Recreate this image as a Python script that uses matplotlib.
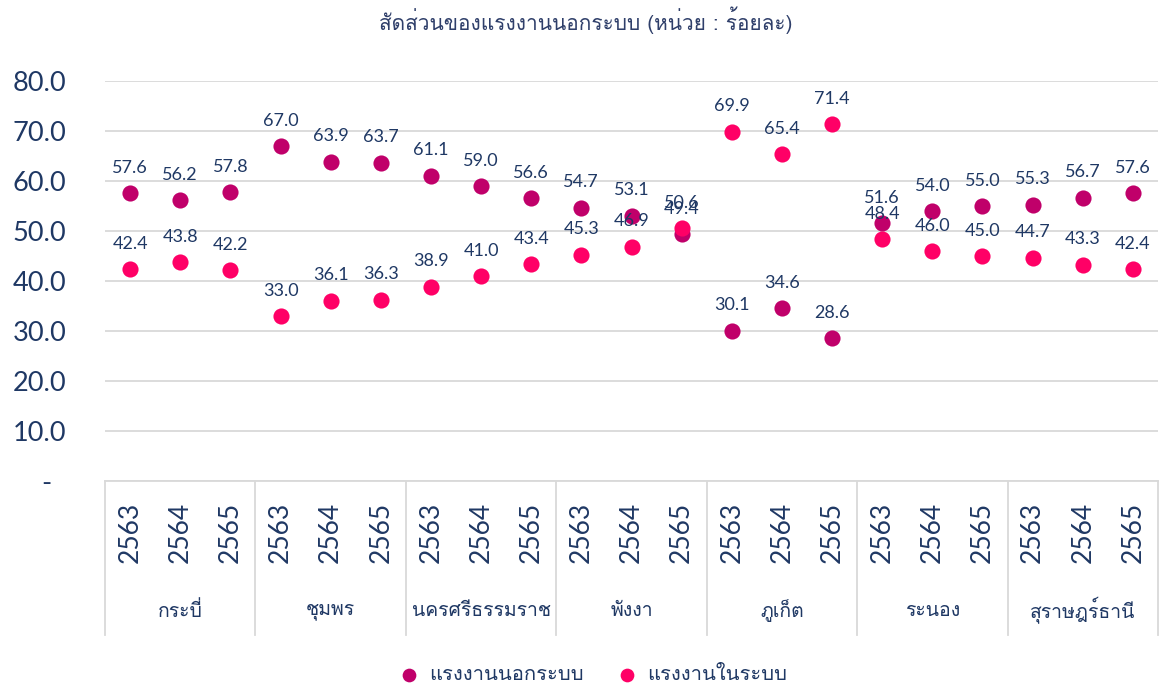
import matplotlib
matplotlib.use("Agg")
import matplotlib.pyplot as plt
import matplotlib.transforms as mtransforms
from matplotlib.lines import Line2D

provinces = ["กระบี่", "ชุมพร", "นครศรีธรรมราช", "พังงา", "ภูเก็ต", "ระนอง", "สุราษฎร์ธานี"]
years = ["2563", "2564", "2565"]

# แรงงานนอกระบบ (informal)
informal = [57.6, 56.2, 57.8, 67.0, 63.9, 63.7, 61.1, 59.0, 56.6, 54.7, 53.1, 49.4,
            30.1, 34.6, 28.6, 51.6, 54.0, 55.0, 55.3, 56.7, 57.6]
# แรงงานในระบบ (formal)
formal = [42.4, 43.8, 42.2, 33.0, 36.1, 36.3, 38.9, 41.0, 43.4, 45.3, 46.9, 50.6,
          69.9, 65.4, 71.4, 48.4, 46.0, 45.0, 44.7, 43.3, 42.4]

title = "สัดส่วนของแรงงานนอกระบบ (หน่วย : ร้อยละ)"
series_names = ["แรงงานนอกระบบ", "แรงงานในระบบ"]

navy = "#1F3864"
grid_c = "#D9D9D9"
c_informal = "#C0006A"
c_formal = "#FF0066"
thai = ["Loma", "Noto Sans Thai Looped", "DejaVu Sans"]
num = ["Lato", "DejaVu Sans"]

fig = plt.figure(figsize=(11.62, 6.88), dpi=100)
ax = fig.add_axes([105 / 1162, 1 - 481 / 688, 1053 / 1162, 400 / 688])

x = list(range(len(informal)))
ax.scatter(x, informal, s=135, color=c_informal, zorder=3, label=series_names[0], linewidths=0)
ax.scatter(x, formal, s=135, color=c_formal, zorder=4, label=series_names[1], linewidths=0)

for xi, v in zip(x, informal):
    ax.annotate(f"{v:.1f}", (xi, v), xytext=(0, 12.5), textcoords="offset points",
                ha="center", va="bottom", fontsize=13, color=navy, family=num, zorder=5)
for xi, v in zip(x, formal):
    ax.annotate(f"{v:.1f}", (xi, v), xytext=(0, 12.5), textcoords="offset points",
                ha="center", va="bottom", fontsize=13, color=navy, family=num, zorder=5)

ax.set_xlim(-0.5, len(x) - 0.5)
ax.set_ylim(0, 80)
ax.set_yticks(range(0, 81, 10))
ax.set_yticklabels(["-  "] + [f"{v:.1f}" for v in range(10, 81, 10)])
for t in ax.get_yticklabels():
    t.set_family(num)
ax.tick_params(axis="y", length=0, pad=28, labelsize=19.5, labelcolor=navy)
ax.yaxis.grid(True, color=grid_c, linewidth=1.3)
ax.set_axisbelow(True)

ax.set_xticks(x)
ax.set_xticklabels(years * len(provinces), rotation=90, fontsize=19, color=navy, family=num)
ax.tick_params(axis="x", length=0, pad=15)

for s in ["left", "right", "top"]:
    ax.spines[s].set_visible(False)
ax.spines["bottom"].set_color(grid_c)
ax.spines["bottom"].set_linewidth(1.3)

trans = mtransforms.blended_transform_factory(ax.transData, ax.transAxes)
for i in range(len(provinces) + 1):
    xb = i * 3 - 0.5
    ax.add_line(Line2D([xb, xb], [0, -0.385], transform=trans, color=grid_c,
                       linewidth=1.3, clip_on=False))
for i, p in enumerate(provinces):
    ax.text(i * 3 + 1, -0.325, p, transform=trans, ha="center", va="center",
            fontsize=14, color=navy, family=thai)

fig.text(586 / 1162, 1 - 20 / 688, title, ha="center", va="center", fontsize=15,
         color="#2F3F6A", family=thai)

leg = fig.legend(loc="center", bbox_to_anchor=(592 / 1162, 1 - 675 / 688), ncol=2, frameon=False,
                 prop={"family": thai, "size": 14.5}, handlelength=1.2, handletextpad=0.4,
                 columnspacing=1.5, markerscale=0.85)
for t in leg.get_texts():
    t.set_color(navy)

fig.savefig("out.png", dpi=100)
